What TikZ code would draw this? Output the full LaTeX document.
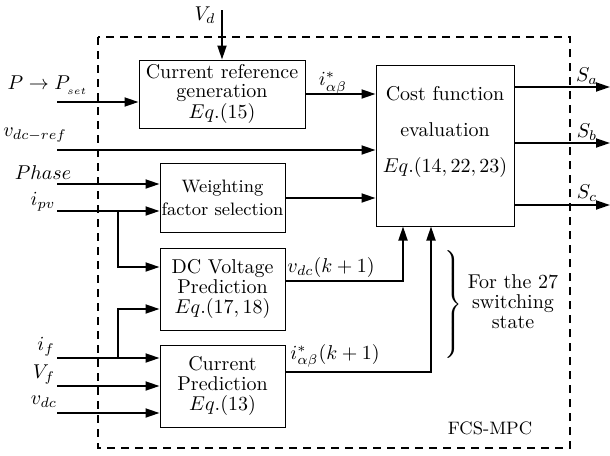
\documentclass[tikz,border=0pt]{standalone}
\usetikzlibrary{arrows.meta}
\begin{document}
\begin{tikzpicture}[x=0.5pt,y=-0.5pt,
  blk/.style={draw, line width=0.5pt, inner sep=0pt, align=center, font=\fontsize{10}{10}\selectfont},
  arr/.style={line width=0.9pt, -{Triangle[length=7pt,width=4.5pt]}},
  lbl/.style={inner sep=0pt, font=\normalsize}]
\useasboundingbox (0,0) rectangle (610,455);
% dashed frame
\draw[line width=0.9pt, dash pattern=on 4pt off 3pt] (98,37) rectangle (570,448);
% blocks
\node[blk, minimum width=83pt, minimum height=34pt, font=\fontsize{10}{9.4}\selectfont] (crg) at (222,94) {Current reference\\generation\\$Eq.(15)$};
\node[blk, minimum width=69pt, minimum height=80.5pt] (cost) at (445,145.5) {};
\node[align=center, inner sep=0pt] (costtxt) at (445,132) {Cost function\\[6pt]evaluation\\[6pt]$Eq.(14,22,23)$};
\node[blk, minimum width=62.5pt, minimum height=34.5pt, font=\fontsize{9}{11.5}\selectfont] (wfs) at (222.5,198) {Weighting\\factor\ selection};
\node[blk, minimum width=62.5pt, minimum height=41pt] (dcv) at (222.5,289) {DC Voltage\\Prediction\\$Eq.(17,18)$};
\node[blk, minimum width=62.5pt, minimum height=41pt] (cp) at (222.5,386) {Current\\Prediction\\$Eq.(13)$};
% input coordinates
\coordinate (inVd) at (222,10);
\coordinate (inP) at (57,102);
\coordinate (inVref) at (57,150);
\coordinate (inPh) at (57,184);
\coordinate (inIpv) at (57,211);
\coordinate (inIf) at (57,358);
\coordinate (inVf) at (57,386);
\coordinate (inVdc) at (57,413);
\coordinate (bpv) at (118,211);
\coordinate (bif) at (118,358);
\coordinate (outSa) at (610,87);
\coordinate (outSb) at (610,143);
\coordinate (outSc) at (610,205);
% connectors
\draw[arr] (inVd) -- (crg.north);
\draw[arr] (inP) -- (inP -| crg.west);
\draw[arr] (crg.east) -- (crg.east -| cost.west);
\draw[arr] (inVref) -- (inVref -| cost.west);
\draw[arr] (wfs.east) -- (wfs.east -| cost.west);
\draw[arr] (inPh) -- (inPh -| wfs.west);
\draw[arr] (inIpv) -- (inIpv -| wfs.west);
\draw[arr] (bpv) |- (dcv.west |- 0,267);
\draw[arr] (inIf) -- (inIf -| cp.west);
\draw[arr] (bif) |- (dcv.west |- 0,309);
\draw[arr] (inVf) -- (inVf -| cp.west);
\draw[arr] (inVdc) -- (inVdc -| cp.west);
\draw[arr] (dcv.east |- 0,281) -| (cost.south -| 403,0);
\draw[arr] (cp.east |- 0,372) -| (cost.south -| 431,0);
\draw[arr] (cost.east |- outSa) -- (outSa);
\draw[arr] (cost.east |- outSb) -- (outSb);
\draw[arr] (cost.east |- outSc) -- (outSc);
% labels
\node[lbl] (lVd) at (205,15) {$V_d$};
\node[lbl] (lP) at (48,85) {$P\rightarrow P_{_{set}}$};
\node[lbl] (lis) at (333,83) {$i^*_{\alpha\beta}$};
\node[lbl] (lvref) at (35,135) {$v_{dc-ref}$};
\node[lbl] (lPh) at (43,173) {$Phase$};
\node[lbl] (lipv) at (43,202) {$i_{pv}$};
\node[lbl] (lvk) at (331,267) {$v_{dc}(k+1)$};
\node[lbl] (lif) at (46,347) {$i_f$};
\node[lbl] (lVf) at (44,375) {$V_f$};
\node[lbl] (lvdc) at (44,402) {$v_{dc}$};
\node[lbl] (lik) at (335,356) {$i^*_{\alpha\beta}(k+1)$};
\node[lbl] (lSa) at (587,76) {$S_a$};
\node[lbl] (lSb) at (587,132) {$S_b$};
\node[lbl] (lSc) at (587,193) {$S_c$};
% brace and note
\node[inner sep=0pt] (brace) at (452,306) {$\left.\vrule height 26pt depth 26pt width 0pt\right\}$};
\node[align=center, inner sep=0pt, font=\fontsize{10}{10}\selectfont] (note) at (513,302) {For the 27\\switching\\state};
\node[inner sep=0pt, font=\small] (fcs) at (490,428) {FCS-MPC};
\end{tikzpicture}
\end{document}
